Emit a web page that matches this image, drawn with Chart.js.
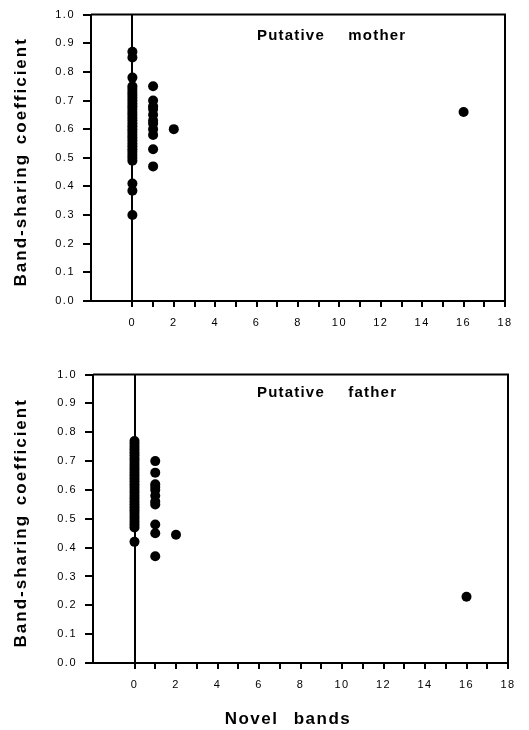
<!DOCTYPE html>
<html>
<head>
<meta charset="utf-8">
<script src="https://cdn.jsdelivr.net/npm/chart.js@4.4.1/dist/chart.umd.min.js"></script>
<style>
  html, body { margin: 0; padding: 0; background: #fff; }
  body { width: 529px; height: 730px; position: relative; overflow: hidden; }
  .wrap { position: absolute; left: 0; width: 529px; }
  #topWrap { top: 0; height: 340px; }
  #botWrap { top: 360px; height: 370px; }
</style>
</head>
<body>
<div class="wrap" id="topWrap"><canvas id="motherChart" width="529" height="340"></canvas></div>
<div class="wrap" id="botWrap"><canvas id="fatherChart" width="529" height="370"></canvas></div>
<script>
// ——— DATA ———
// band-sharing coefficients, grouped by number of novel bands
const motherAt0 = [0.87, 0.85, 0.78, 0.75, 0.74, 0.73, 0.72, 0.71, 0.70, 0.69, 0.68, 0.67, 0.66, 0.65, 0.64,
    0.63, 0.62, 0.61, 0.60, 0.59, 0.58, 0.57, 0.56, 0.55, 0.54, 0.53, 0.52, 0.51, 0.50, 0.49, 0.41, 0.385, 0.30];
const motherAt1 = [0.75, 0.70, 0.68, 0.67, 0.65, 0.63, 0.62, 0.60, 0.58, 0.53, 0.47];
const motherAt2 = [0.60];
const motherAt16 = [0.66];

const fatherAt0 = [0.77, 0.76, 0.75, 0.74, 0.73, 0.72, 0.71, 0.70, 0.69, 0.68, 0.67, 0.66, 0.65, 0.64, 0.63,
    0.62, 0.61, 0.60, 0.59, 0.58, 0.57, 0.56, 0.55, 0.54, 0.53, 0.52, 0.51, 0.50, 0.49, 0.48, 0.47, 0.42];
const fatherAt1 = [0.70, 0.66, 0.62, 0.61, 0.60, 0.58, 0.56, 0.55, 0.48, 0.45, 0.37];
const fatherAt2 = [0.445];
const fatherAt16 = [0.23];

const xMin = -2, xMax = 18;
const yMin = 0, yMax = 1;
const yTitle = 'Band-sharing coefficient';
const xTitle = 'Novel bands';

function toPoints(groups) {
    const pts = [];
    groups.forEach(([x, ys]) => ys.forEach(y => pts.push({ x, y })));
    return pts;
}

const FONT = '"Liberation Sans", Arial, Helvetica, sans-serif';

// frame (top + right edges), spaced-out titles and in-plot label
const framePlugin = {
    id: 'frame',
    beforeDraw(chart) {
        chart.ctx.letterSpacing = '1.5px';
    },
    afterDraw(chart, args, opts) {
        const { ctx, chartArea: a } = chart;
        ctx.save();
        ctx.strokeStyle = '#000';
        ctx.lineWidth = 2;
        ctx.beginPath();
        ctx.moveTo(a.left, a.top);
        ctx.lineTo(a.right, a.top);
        ctx.lineTo(a.right, a.bottom);
        ctx.stroke();

        ctx.fillStyle = '#000';
        ctx.textBaseline = 'middle';

        // label inside plot
        ctx.font = 'bold 15px ' + FONT;
        ctx.letterSpacing = '1.2px';
        ctx.wordSpacing = '18px';
        ctx.textAlign = 'left';
        ctx.fillText(opts.label, opts.labelX, a.top + opts.labelDy);

        // y title
        ctx.font = 'bold 17px ' + FONT;
        ctx.letterSpacing = '2px';
        ctx.wordSpacing = '2px';
        ctx.textAlign = 'center';
        ctx.save();
        ctx.translate(21, (a.top + a.bottom) / 2 + 4);
        ctx.rotate(-Math.PI / 2);
        ctx.fillText(yTitle, 0, 0);
        ctx.restore();

        // x title
        if (opts.showX) {
            ctx.letterSpacing = '1.5px';
            ctx.wordSpacing = '9px';
            ctx.fillText(xTitle, 288, chart.height - 11);
        }
        ctx.restore();
        ctx.letterSpacing = '0px';
        ctx.wordSpacing = '0px';
    }
};

function makeChart(id, points, cfg) {
    return new Chart(document.getElementById(id), {
        type: 'scatter',
        data: {
            datasets: [{
                data: points,
                backgroundColor: '#000',
                borderColor: '#000',
                pointRadius: 5,
                pointHoverRadius: 5,
                borderWidth: 0
            }]
        },
        options: {
            responsive: false,
            animation: false,
            layout: { padding: { top: cfg.top, right: cfg.right, left: 0, bottom: 0 } },
            plugins: {
                legend: { display: false },
                tooltip: { enabled: false },
                frame: { label: cfg.label, labelX: 257, labelDy: cfg.labelDy, showX: cfg.showX }
            },
            scales: {
                x: {
                    type: 'linear',
                    min: xMin,
                    max: xMax,
                    afterFit: s => { s.height = cfg.xHeight; },
                    border: { display: true, color: '#000', width: 2 },
                    grid: {
                        drawOnChartArea: true,
                        lineWidth: 2,
                        tickLength: 6,
                        color: c => c.tick && c.tick.value === 0 ? '#000' : 'rgba(0,0,0,0)',
                        tickColor: c => c.tick && c.tick.value >= 0 ? '#000' : 'rgba(0,0,0,0)'
                    },
                    ticks: {
                        stepSize: 1,
                        autoSkip: false,
                        maxRotation: 0,
                        padding: 9,
                        color: '#000',
                        font: { family: FONT, size: 11 },
                        callback: v => (v >= 0 && v % 2 === 0) ? String(v) : ''
                    }
                },
                y: {
                    type: 'linear',
                    min: yMin,
                    max: yMax,
                    afterFit: s => { s.width = cfg.yWidth; },
                    border: { display: true, color: '#000', width: 2 },
                    grid: {
                        drawOnChartArea: false,
                        lineWidth: 2,
                        tickLength: 8,
                        tickColor: '#000'
                    },
                    ticks: {
                        stepSize: 0.1,
                        padding: 8,
                        color: '#000',
                        font: { family: FONT, size: 11 },
                        callback: v => v.toFixed(1)
                    }
                }
            }
        },
        plugins: [framePlugin]
    });
}

makeChart('motherChart',
    toPoints([[0, motherAt0], [1, motherAt1], [2, motherAt2], [16, motherAt16]]),
    { top: 10, right: 24, yWidth: 91, xHeight: 39, showX: false, label: 'Putative mother', labelDy: 21 });

makeChart('fatherChart',
    toPoints([[0, fatherAt0], [1, fatherAt1], [2, fatherAt2], [16, fatherAt16]]),
    { top: 13, right: 21, yWidth: 93, xHeight: 67, showX: true, label: 'Putative father', labelDy: 18 });
</script>
</body>
</html>
